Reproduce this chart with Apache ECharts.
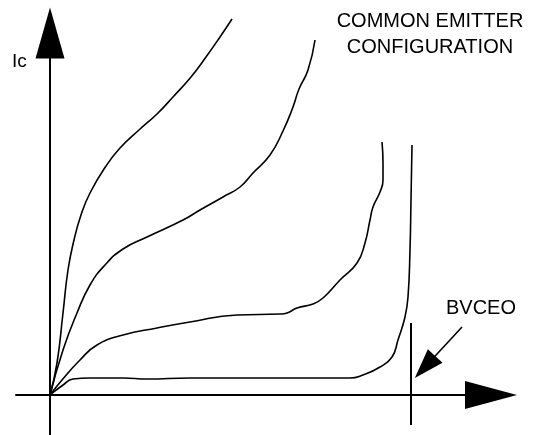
<!DOCTYPE html>
<html>
<head>
<meta charset="utf-8">
<script src="https://cdn.jsdelivr.net/npm/echarts@6/dist/echarts.min.js"></script>
<style>html,body{margin:0;padding:0;background:#fff;}#c{width:535px;height:435px;}</style>
</head>
<body>
<div id="c"></div>
<script>
// Data (arbitrary units: Vce horizontal, Ic vertical)
const curve1 = [[0,0],[7,32],[13,82],[18,125],[24,155],[31,180],[40,202],[56,229],[70,247],[89,265],[107,281],[123,298],[141,318],[156,338],[170,358],[182,376]];
const curve2 = [[0,0],[13,45],[27,82],[40,110],[55,130],[73,146],[97,158],[133,175],[150,185],[173,198],[190,208],[203,222],[220,240],[233,264],[243,288],[249,306],[258,325],[265,355]];
const curve3 = [[0,0],[12,15],[30,35],[47,50],[73,60],[107,67],[140,73],[187,80],[230,81],[237,82],[247,87],[263,91],[273,97],[290,115],[307,132],[315,152],[320,175],[323,188],[330,203],[333,215],[333,232],[332,253]];
const curve4 = [[0,0],[13,10],[23,16],[40,17],[73,17],[97,16],[140,17],[190,17],[250,17],[300,17],[313,20],[330,28],[342,38],[348,55],[355,78],[358,98],[360,145],[361,195],[362,250]];
const bvceoLine = [[361,72],[361,-30]];
const bvceoArrow = [[412,68],[375,28]];
const labels = { y: 'Ic', title: 'COMMON EMITTER\nCONFIGURATION', bv: 'BVCEO' };

const FONT = 'Liberation Sans, Arial, sans-serif';
const chart = echarts.init(document.getElementById('c'), null, {renderer: 'canvas'});
const curveStyle = {color: '#000', width: 1.6};
function curve(d) {
  return {type: 'line', data: d, smooth: 0.5, showSymbol: false, symbol: 'none', clip: false,
    lineStyle: curveStyle, itemStyle: {color: '#000'}, silent: true};
}
chart.setOption({
  animation: false,
  backgroundColor: '#fff',
  grid: {left: 16, right: 44, top: 33, bottom: 0, containLabel: false},
  xAxis: {type: 'value', min: -34, max: 441,
    axisLine: {onZero: true, symbol: ['none', 'triangle'], symbolSize: [28, 52], lineStyle: {color: '#000', width: 2}},
    axisTick: {show: false}, axisLabel: {show: false}, splitLine: {show: false}},
  yAxis: {type: 'value', min: -40, max: 362,
    axisLine: {onZero: true, symbol: ['none', 'triangle'], symbolSize: [29, 51], lineStyle: {color: '#000', width: 2}},
    axisTick: {show: false}, axisLabel: {show: false}, splitLine: {show: false}},
  series: [
    curve(curve1), curve(curve2), curve(curve3), curve(curve4),
    {type: 'line', data: bvceoLine, showSymbol: false, symbol: 'none', clip: false, silent: true,
      lineStyle: {color: '#000', width: 2},
      markLine: {silent: true, symbol: ['none', 'triangle'], symbolSize: [20, 30], animation: false,
        label: {show: false}, lineStyle: {type: 'solid', color: '#000', width: 1.6},
        data: [[{coord: bvceoArrow[0]}, {coord: bvceoArrow[1]}]]}}
  ],
  graphic: [
    {type: 'text', x: 12, y: 62, silent: true, style: {text: labels.y, font: '19px ' + FONT, fill: '#000', align: 'left', verticalAlign: 'middle'}},
    {type: 'text', x: 430, y: 8, silent: true, style: {text: labels.title, font: '20px ' + FONT, lineHeight: 26, fill: '#000', align: 'center', verticalAlign: 'top'}},
    {type: 'text', x: 446, y: 308, silent: true, style: {text: labels.bv, font: '20px ' + FONT, fill: '#000', align: 'left', verticalAlign: 'middle'}}
  ]
});
</script>
</body>
</html>
